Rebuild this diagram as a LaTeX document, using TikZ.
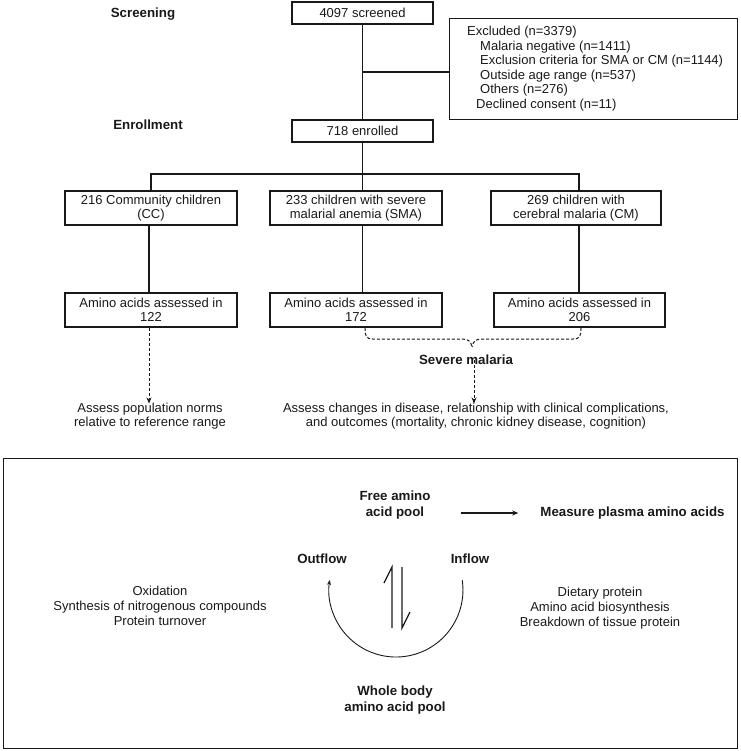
\documentclass[tikz,border=0pt]{standalone}
\usepackage{fontspec}
\setmainfont{Liberation Sans}
\usetikzlibrary{arrows.meta}
\begin{document}
\begin{tikzpicture}[x=1pt,y=-1pt,
  every node/.style={font=\fontsize{13}{14.5}\selectfont, inner sep=0pt, text=black!90},
  box/.style={draw=black!90, line width=1.2pt, align=center},
  hdr/.style={font=\fontsize{13.3}{16}\selectfont\bfseries, align=center},
  txt/.style={align=center},
  ln/.style={draw=black!90, line width=1.15pt},
  dsh/.style={ln, line width=1pt, dash pattern=on 3pt off 2pt},
  tip/.style={-{Stealth[length=6pt,width=5pt]}}
]
\useasboundingbox (0,0) rectangle (740,751);

% Flow chart
\node[hdr] (lscr) at (143,14) {Screening};
\node[hdr] (lenr) at (148,125) {Enrollment};

\node[box, minimum width=141pt, minimum height=22pt] (scr) at (362.5,13) {4097 screened};
\node[box, minimum width=141pt, minimum height=22pt] (enr) at (362.5,131) {718 enrolled};

\node[box, anchor=north west, minimum width=288pt, minimum height=101pt] (exc) at (449,18) {};
\node[txt, align=left, anchor=west] (exctxt) at (467,68.5) {Excluded (n=3379)\\
\hspace*{13pt}Malaria negative (n=1411)\\
\hspace*{13pt}Exclusion criteria for SMA or CM (n=1144)\\
\hspace*{13pt}Outside age range (n=537)\\
\hspace*{13pt}Others (n=276)\\
\hspace*{9pt}Declined consent (n=11)};

\coordinate (j) at (362.5,72);
\draw[ln] (scr.south) -- (enr.north);
\draw[ln] (j) -- (j -| exc.west);

\node[box, minimum width=172pt, minimum height=34pt] (cc) at (151,208) {216 Community children\\(CC)};
\node[box, minimum width=172pt, minimum height=34pt] (sma) at (356,208) {233 children with severe\\malarial anemia (SMA)};
\node[box, minimum width=170pt, minimum height=34pt] (cm) at (576,208) {269 children with\\cerebral malaria (CM)};

\node[box, minimum width=172pt, minimum height=34pt] (cc2) at (151,310) {Amino acids assessed in\\122};
\node[box, minimum width=172pt, minimum height=34pt] (sma2) at (356,310) {Amino acids assessed in\\172};
\node[box, minimum width=171pt, minimum height=34pt] (cm2) at (579.5,310) {Amino acids assessed in\\206};

\coordinate (t) at (362.5,174);
\coordinate (tl) at (151,174);
\coordinate (tr) at (579,174);
\draw[ln] (enr.south) -- (t);
\draw[ln] (cc.north -| tl) -- (tl) -- (tr) -- (cm.north -| tr);
\draw[ln] (t) -- (sma.north -| t);

\coordinate (vcc) at (149,0);
\coordinate (vsm) at (362.5,0);
\coordinate (vcm) at (579,0);
\draw[ln] (cc.south -| vcc) -- (cc2.north -| vcc);
\draw[ln] (sma.south -| vsm) -- (sma2.north -| vsm);
\draw[ln] (cm.south -| vcm) -- (cm2.north -| vcm);

% outcomes
\node[txt] (apn) at (150,416) {Assess population norms\\relative to reference range};
\draw[dsh, tip] (cc2.south -| vcc) -- ([yshift=-1pt]apn.north -| vcc);

\node[hdr] (sm) at (466,360) {Severe malaria};
\node[txt] (acd) at (476,416) {Assess changes in disease, relationship with clinical complications,\\and outcomes (mortality, chronic kidney disease, cognition)};

\coordinate (bl) at (365,328);
\coordinate (br) at (581,328);
\coordinate (bm) at (472,347);
\draw[dsh] (bl) .. controls (365,336) and (366,339) .. (373,339) -- (462,339) .. controls (468,339) and (471,341) .. (bm);
\draw[dsh] (br) .. controls (581,336) and (580,339) .. (573,339) -- (482,339) .. controls (476,339) and (473,341) .. (bm);

\coordinate (sa) at (474,0);
\draw[dsh, tip] ([yshift=5pt]sm.south -| sa) -- ([yshift=-1pt]acd.north -| sa);

% lower panel
\node[box, anchor=north west, minimum width=734pt, minimum height=290pt] (panel) at (3,458) {};

\node[hdr] (fap) at (395,505) {Free amino\\acid pool};
\node[hdr] (mpa) at (632.5,513) {Measure plasma amino acids};
\draw[ln, tip, shorten <=30pt, shorten >=22pt] (fap.east |- mpa.west) -- (mpa.west);

\node[hdr] (out) at (322,559) {Outflow};
\node[hdr] (inf) at (470,559) {Inflow};

\node[txt, font=\fontsize{13}{15}\selectfont] (ltx) at (160,606) {Oxidation\\Synthesis of nitrogenous compounds\\Protein turnover};
\node[txt, font=\fontsize{13}{15}\selectfont] (rtx) at (600,608) {Dietary protein\\Amino acid biosynthesis\\Breakdown of tissue protein};

\node[hdr] (wb) at (395,700) {Whole body\\amino acid pool};

% cycle arc
\draw[ln, line width=0.9pt, -{Stealth[length=5pt,width=4pt]}] (462.2,580) arc[start angle=-8.6, end angle=188.6, radius=67];

% equilibrium harpoons
\draw[ln, line width=1.3pt] (384,583) -- (392,567) -- (392,628);
\draw[ln, line width=1.3pt] (402,567) -- (402,628) -- (410,612);

\end{tikzpicture}
\end{document}
